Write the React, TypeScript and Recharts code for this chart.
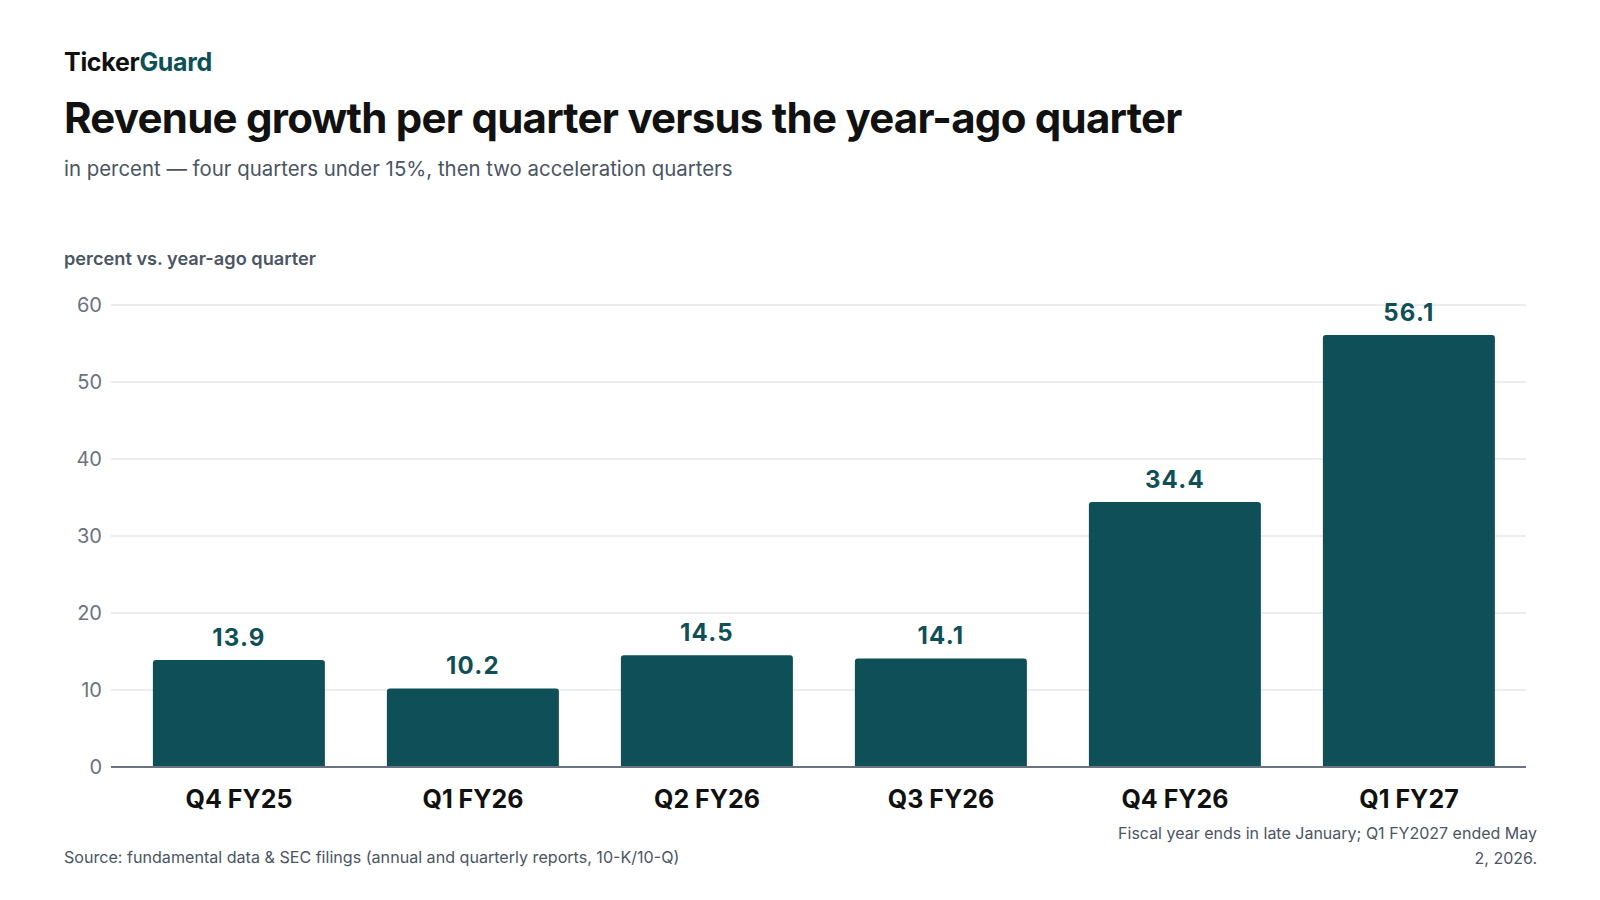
import { BarChart, Bar, XAxis, YAxis, CartesianGrid, LabelList } from "recharts";

const quarters = ["Q4 FY25", "Q1 FY26", "Q2 FY26", "Q3 FY26", "Q4 FY26", "Q1 FY27"];
const growthPct = [13.9, 10.2, 14.5, 14.1, 34.4, 56.1];
const yTicks = [0, 10, 20, 30, 40, 50, 60];

const TEAL = "#0f4f57";
const FONT = "Inter, 'Noto Sans', sans-serif";

const data = quarters.map((q, i) => ({ quarter: q, growth: growthPct[i] }));

function XTick({ x, y, payload }: any) {
  return (
    <text x={x} y={y + 33} textAnchor="middle" fill="#111111" fontSize={25} fontWeight={700} fontFamily={FONT}>
      {payload.value}
    </text>
  );
}

function ValueLabel({ x, y, width, value }: any) {
  return (
    <text
      x={x + width / 2}
      y={y - 14}
      textAnchor="middle"
      fill={TEAL}
      fontSize={24}
      fontWeight={700}
      fontFamily={FONT}
      letterSpacing={1.2}
    >
      {value.toFixed(1)}
    </text>
  );
}

export default function App() {
  return (
    <div style={{ position: "absolute", left: 0, top: 0, width: 1600, height: 900, background: "#fff", fontFamily: FONT }}>
      <div style={{ position: "absolute", left: 64, top: 47, fontSize: 25, fontWeight: 700, letterSpacing: -0.3, color: "#111" }}>
        Ticker<span style={{ color: TEAL }}>Guard</span>
      </div>
      <div style={{ position: "absolute", left: 64, top: 92, fontSize: 42, fontWeight: 700, letterSpacing: -0.75, color: "#111" }}>
        Revenue growth per quarter versus the year-ago quarter
      </div>
      <div style={{ position: "absolute", left: 64, top: 156, fontSize: 20.4, color: "#4b5563" }}>
        in percent — four quarters under 15%, then two acceleration quarters
      </div>
      <div style={{ position: "absolute", left: 64, top: 247, fontSize: 18.2, fontWeight: 600, color: "#4b5563" }}>
        percent vs. year-ago quarter
      </div>

      <div style={{ position: "absolute", left: 0, top: 280 }}>
        <BarChart
          width={1600}
          height={547}
          data={data}
          margin={{ top: 25, right: 74, bottom: 0, left: 51 }}
          barCategoryGap="13.2%"
        >
          <CartesianGrid vertical={false} stroke="#e5e7eb" strokeWidth={1.5} />
          <XAxis
            dataKey="quarter"
            height={60}
            tickLine={false}
            axisLine={{ stroke: "#6b7280", strokeWidth: 2 }}
            tick={<XTick />}
            interval={0}
            padding={{ left: 11, right: 0 }}
          />
          <YAxis
            width={60}
            domain={[0, 60]}
            ticks={yTicks}
            tickLine={false}
            axisLine={false}
            tickMargin={3}
            tick={{ fill: "#6b7280", fontSize: 20, fontFamily: FONT }}
          />
          <Bar dataKey="growth" fill={TEAL} radius={[3, 3, 0, 0]} isAnimationActive={false}>
            <LabelList dataKey="growth" content={<ValueLabel />} />
          </Bar>
        </BarChart>
      </div>

      <div style={{ position: "absolute", left: 64, top: 847, fontSize: 16.1, color: "#4b5563" }}>
        Source: fundamental data &amp; SEC filings (annual and quarterly reports, 10-K/10-Q)
      </div>
      <div
        style={{
          position: "absolute",
          right: 63,
          top: 821,
          width: 425,
          fontSize: 16,
          lineHeight: "24.5px",
          color: "#4b5563",
          textAlign: "right",
        }}
      >
        Fiscal year ends in late January; Q1 FY2027 ended May 2, 2026.
      </div>
    </div>
  );
}
